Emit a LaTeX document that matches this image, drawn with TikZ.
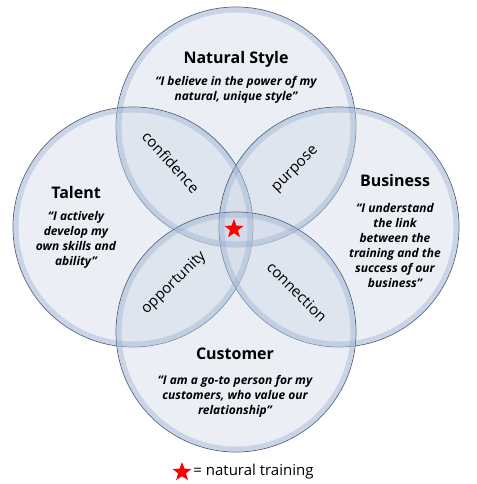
\documentclass[tikz,border=0pt]{standalone}
\usepackage{fontspec}
\setmainfont{Open Sans}
\usepackage{tikz}
\usetikzlibrary{positioning, shapes.geometric}
\definecolor{vennline}{RGB}{78,92,118}
\definecolor{vennfill}{RGB}{205,214,230}
\definecolor{vennrim}{RGB}{150,175,210}
\tikzset{x = 1pt, y = -1pt,
         venn/.style = {circle, minimum size = 240pt, inner sep = 0pt,
                        draw = vennline, line width = 0.7pt,
                        fill = vennfill, fill opacity = 0.4},
         rim/.style = {draw = vennrim, line width = 5pt, opacity = 0.4},
         title/.style = {font = \fontsize{16}{18}\selectfont\bfseries},
         quote/.style = {font = \fontsize{12}{15}\selectfont\bfseries\itshape,
                         align = center},
         overlap/.style = {font = \fontsize{15}{17}\selectfont},
         redstar/.style = {star, star points = 5, star point ratio = 2.4,
                           fill = red, inner sep = 0pt, minimum size = 20pt}}

\begin{document}
\begin{tikzpicture}
        \useasboundingbox (0,0) rectangle (476,484);

        \node[venn] (style)    at (236,127) {};
        \node[venn] (talent)   at (133,227) {};
        \node[venn] (business) at (339,227) {};
        \node[venn] (customer) at (236,332) {};
        \foreach \c in {style, talent, business, customer}
            \draw[rim] (\c.center) circle (117pt);

        \node[title] (styleT)    at (236,59)  {Natural Style};
        \node[quote] (styleQ)    at (236,90)  {``I believe in the power of my\\natural, unique style''};
        \node[title] (talentT)   at (76,192)  {Talent};
        \node[quote] (talentQ)   at (76,240)  {``I actively\\develop my\\own skills and\\ability''};
        \node[title] (businessT) at (395,180) {Business};
        \node[quote] (businessQ) at (395,245) {``I understand\\the link\\between the\\training and the\\success of our\\business''};
        \node[title] (customerT) at (235,354) {Customer};
        \node[quote] (customerQ) at (235,396) {``I am a go-to person for my\\customers, who value our\\relationship''};

        \node[overlap, rotate = -48] (confidence)  at (171,162) {confidence};
        \node[overlap, rotate = 45]  (purpose)     at (296,170) {purpose};
        \node[overlap, rotate = 44]  (opportunity) at (174,283) {opportunity};
        \node[overlap, rotate = -45] (connection)  at (297,292) {connection};

        \node[redstar] (natural) at (234,229) {};

        \node[redstar] (key) at (182,472) {};
        \node[font = \fontsize{15}{17}\selectfont, right = 2pt of key] (keytext) {= natural training};
\end{tikzpicture}
\end{document}
